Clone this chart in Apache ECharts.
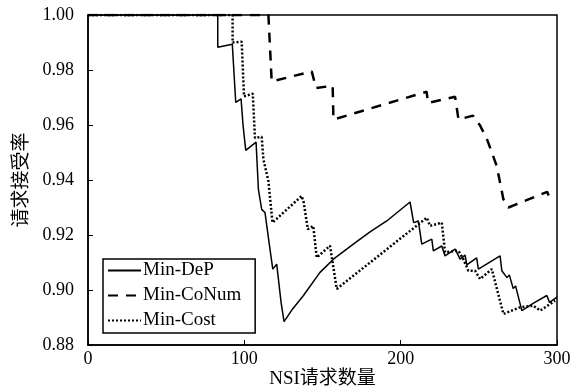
<!DOCTYPE html>
<html>
<head>
<meta charset="utf-8">
<script src="https://cdn.jsdelivr.net/npm/echarts@6/dist/echarts.min.js"></script>
<style>
  html, body { margin: 0; padding: 0; background: #fff; }
  #main { width: 578px; height: 389px; }
</style>
</head>
<body>
<div id="main"></div>
<script>
var seriesNames = ['Min-DeP', 'Min-CoNum', 'Min-Cost'];

var depX = [0, 83, 83, 92.3, 94.5, 97.9, 99.2, 100.9, 107.5, 109, 111.1, 113.2, 116.4, 118.2, 120.7, 123.5, 124.2, 125.4,
    131, 137.7, 148.4, 157, 169.7, 180.4, 191.1, 206, 208.3, 211.3, 213.5, 219.9, 220.9, 226.3, 228.4, 234.8, 238,
    241.2, 242.3, 248.6, 249.7, 263.6, 264.7, 268, 269.5, 272, 273.5, 277.5, 285, 293.5, 295.2, 300];
var depY = [1, 1, 0.9883, 0.9894, 0.9682, 0.9695, 0.9598, 0.9508, 0.9538, 0.9366, 0.9293, 0.9282, 0.9149, 0.9076, 0.9094, 0.8955, 0.8949, 0.8885,
    0.8932, 0.8979, 0.9064, 0.9112, 0.9167, 0.9211, 0.9251, 0.932, 0.9245, 0.9251, 0.9167, 0.9185, 0.9142, 0.916, 0.9124, 0.9149, 0.9112,
    0.9127, 0.9091, 0.9117, 0.9076, 0.9124, 0.907, 0.9045, 0.9055, 0.9005, 0.9015, 0.8925, 0.8952, 0.898, 0.8955, 0.8974];

var conumX = [0, 115.4, 117.5, 143.1, 145.9, 156.5, 157, 216.6, 217.5, 234.8, 237, 246.3, 250.8, 255.3, 261.5, 265.7, 268.9, 293.7, 296];
var conumY = [1, 1, 0.9758, 0.9795, 0.9734, 0.9743, 0.962, 0.9721, 0.968, 0.9703, 0.962, 0.9634, 0.9598, 0.9547, 0.945, 0.933, 0.930, 0.9357, 0.9325];

var costX = [0, 92.5, 92.5, 98.3, 99.8, 105.4, 106.8, 111.1, 112.2, 115.4, 116, 118, 136.7, 138, 140.6, 144.1, 146.3, 154.8, 159.1,
    216.7, 218.8, 226.3, 228.4, 236.9, 240.1, 243.3, 247.6, 250.8, 258.3, 265.7, 276.4, 284.9, 289.2, 298.8];
var costY = [1, 1, 0.99, 0.9903, 0.9704, 0.9714, 0.9553, 0.9557, 0.9475, 0.9396, 0.939, 0.9245, 0.9342, 0.9318, 0.9221, 0.9233, 0.9118, 0.9161, 0.9004,
    0.9263, 0.9233, 0.9245, 0.9137, 0.9143, 0.9112, 0.907, 0.907, 0.904, 0.9076, 0.8913, 0.8937, 0.8943, 0.8925, 0.8961];

var xTicks = [0, 100, 200, 300];
var yTicks = [0.88, 0.90, 0.92, 0.94, 0.96, 0.98, 1.00];

function pairs(xs, ys) {
    var out = [];
    for (var i = 0; i < xs.length; i++) {
        out.push([xs[i], ys[i]]);
    }
    return out;
}

var chartDom = document.getElementById('main');
var myChart = echarts.init(chartDom);
var serifFont = '"Liberation Serif", "DejaVu Serif", serif';
var cjkFont = '"Liberation Serif", "Noto Sans CJK SC", serif';

var option = {
    animation: false,
    backgroundColor: '#fff',
    grid: {
        left: 88, right: 21, top: 15, bottom: 44,
        outerBoundsMode: 'none',
        containLabel: false,
        show: true, borderColor: '#000', borderWidth: 1.5, backgroundColor: 'transparent'
    },
    legend: {
        orient: 'vertical',
        left: 103, top: 259,
        padding: [2, 14, 3, 4],
        itemGap: 6,
        itemWidth: 33,
        itemHeight: 14,
        borderColor: '#000',
        borderWidth: 1.5,
        backgroundColor: '#fff',
        itemStyle: { opacity: 0 },
        textStyle: { fontFamily: serifFont, fontSize: 19, color: '#000', padding: [0, 0, 0, -3] },
        data: seriesNames
    },
    xAxis: {
        type: 'value',
        min: xTicks[0], max: xTicks[xTicks.length - 1], interval: 100,
        name: 'NSI请求数量',
        nameLocation: 'middle',
        nameGap: 25,
        nameMoveOverlap: false,
        nameTextStyle: { fontFamily: cjkFont, fontSize: 19, color: '#000' },
        axisLine: { lineStyle: { color: '#000', width: 1.5 } },
        axisTick: { inside: true, length: 5, lineStyle: { color: '#000' } },
        axisLabel: { fontFamily: serifFont, fontSize: 18, color: '#000', margin: 5 },
        splitLine: { show: false }
    },
    yAxis: {
        type: 'value',
        min: yTicks[0], max: yTicks[yTicks.length - 1], interval: 0.02,
        name: '请求接受率',
        nameLocation: 'middle',
        nameRotate: 90,
        nameGap: 56,
        nameMoveOverlap: false,
        nameTextStyle: { fontFamily: cjkFont, fontSize: 19, color: '#000' },
        axisLine: { lineStyle: { color: '#000', width: 1.5 } },
        axisTick: { inside: true, length: 5, lineStyle: { color: '#000' } },
        axisLabel: {
            fontFamily: serifFont, fontSize: 18, color: '#000', margin: 14,
            formatter: function (v) { return v.toFixed(2); }
        },
        splitLine: { show: false }
    },
    series: [{
        name: seriesNames[0],
        type: 'line',
        data: pairs(depX, depY),
        showSymbol: false,
        symbol: 'none',
        lineStyle: { color: '#000', width: 1.5, type: 'solid' },
        itemStyle: { color: '#000' }
    }, {
        name: seriesNames[1],
        type: 'line',
        data: pairs(conumX, conumY),
        showSymbol: false,
        symbol: 'none',
        lineStyle: { color: '#000', width: 2.5, type: [10, 8] },
        itemStyle: { color: '#000' }
    }, {
        name: seriesNames[2],
        type: 'line',
        data: pairs(costX, costY),
        showSymbol: false,
        symbol: 'none',
        lineStyle: { color: '#000', width: 2.5, type: [2, 2] },
        itemStyle: { color: '#000' }
    }]
};

option && myChart.setOption(option);
</script>
</body>
</html>
